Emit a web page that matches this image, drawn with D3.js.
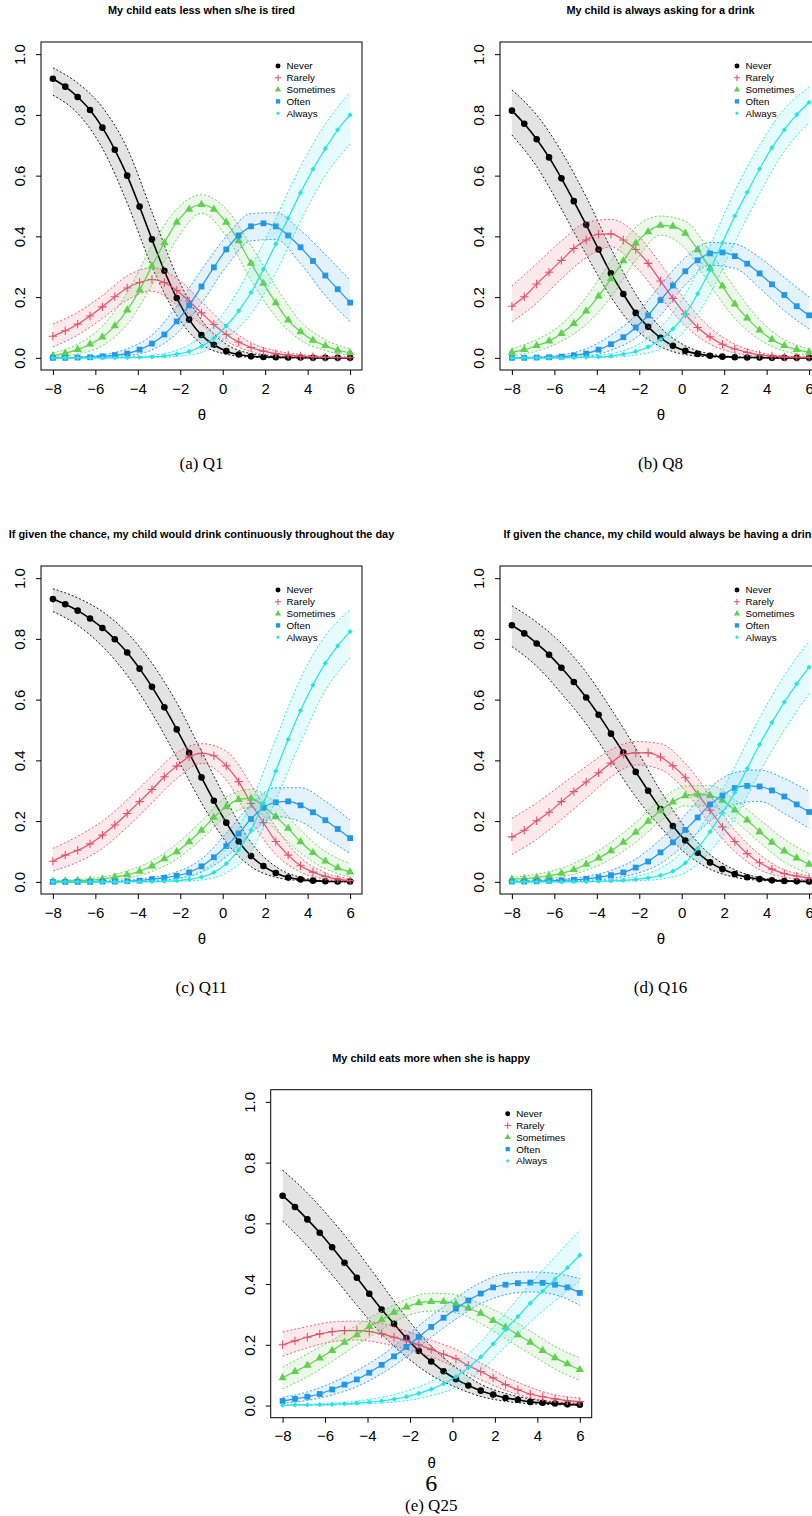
<!DOCTYPE html>
<html><head><meta charset="utf-8">
<script src="https://cdn.jsdelivr.net/npm/d3@7"></script>
<style>body{margin:0;background:#fff}svg{display:block}</style>
</head><body>
<svg id="c" width="812" height="1516"></svg>
<script>
// ---------- data ----------
const categories = ["Never","Rarely","Sometimes","Often","Always"];
const titles = [
  "My child eats less when s/he is tired",
  "My child is always asking for a drink",
  "If given the chance, my child would drink continuously throughout the day",
  "If given the chance, my child would always be having a drink",
  "My child eats more when she is happy"
];
const captions = ["(a) Q1","(b) Q8","(c) Q11","(d) Q16","(e) Q25"];
const xTicks = [-8,-6,-4,-2,0,2,4,6];
const yTicks = [0,0.2,0.4,0.6,0.8,1.0];
const yTickLabels = ["0.0","0.2","0.4","0.6","0.8","1.0"];
const theta = [-8,-7.417,-6.833,-6.25,-5.667,-5.083,-4.5,-3.917,-3.333,-2.75,-2.167,-1.583,-1,-0.417,0.167,0.75,1.333,1.917,2.5,3.083,3.667,4.25,4.833,5.417,6];
const thetaBand = [-8,-6.833,-5.667,-4.5,-3.333,-2.167,-1,0.167,1.333,2.5,3.667,4.833,6];

// Q1
const q1Never = [0.919,0.893,0.859,0.816,0.758,0.685,0.600,0.498,0.390,0.287,0.197,0.126,0.075,0.043,0.022,0.011,0.005,0.003,0.002,0.001,0.001,0,0,0,0];
const q1NeverLo = [0.865,0.805,0.69,0.51,0.30,0.14,0.045,0.012,0.002,0.0005,0,0,0];
const q1NeverHi = [0.955,0.905,0.825,0.69,0.48,0.27,0.125,0.045,0.014,0.005,0.002,0.001,0.0005];
const q1Rarely = [0.071,0.089,0.111,0.138,0.168,0.201,0.230,0.248,0.258,0.248,0.222,0.187,0.148,0.110,0.077,0.052,0.034,0.022,0.014,0.009,0.006,0.004,0.002,0.001,0.001];
const q1RarelyLo = [0.036,0.075,0.130,0.190,0.220,0.175,0.110,0.055,0.020,0.007,0.002,0.001,0];
const q1RarelyHi = [0.111,0.150,0.205,0.270,0.297,0.262,0.185,0.105,0.050,0.023,0.011,0.005,0.003];
const q1Sometimes = [0.007,0.015,0.027,0.045,0.068,0.105,0.157,0.223,0.302,0.379,0.446,0.489,0.505,0.489,0.446,0.385,0.311,0.245,0.181,0.124,0.086,0.058,0.040,0.025,0.017];
const q1SometimesLo = [0.002,0.013,0.040,0.110,0.24,0.39,0.476,0.40,0.255,0.135,0.058,0.024,0.008];
const q1SometimesHi = [0.016,0.045,0.105,0.215,0.37,0.49,0.537,0.49,0.37,0.235,0.12,0.06,0.03];
const q1Often = [0,0,0.001,0.002,0.005,0.009,0.014,0.027,0.047,0.077,0.120,0.173,0.235,0.298,0.357,0.403,0.433,0.443,0.433,0.403,0.364,0.319,0.271,0.226,0.182];
const q1OftenLo = [0,0,0.002,0.007,0.026,0.08,0.18,0.30,0.385,0.39,0.31,0.205,0.119];
const q1OftenHi = [0.001,0.003,0.01,0.03,0.075,0.17,0.29,0.40,0.475,0.478,0.42,0.34,0.256];
const q1Always = [0,0,0,0,0,0,0.001,0.002,0.003,0.006,0.012,0.021,0.038,0.065,0.105,0.155,0.215,0.292,0.375,0.46,0.544,0.621,0.689,0.751,0.800];
const q1AlwaysLo = [0,0,0,0,0.001,0.005,0.018,0.065,0.145,0.28,0.45,0.60,0.704];
const q1AlwaysHi = [0,0,0.001,0.003,0.008,0.025,0.07,0.16,0.30,0.46,0.63,0.77,0.875];

// Q8
const q8Never = [0.814,0.771,0.720,0.660,0.591,0.516,0.438,0.357,0.278,0.210,0.148,0.102,0.066,0.040,0.023,0.013,0.007,0.004,0.002,0.001,0.001,0,0,0,0];
const q8NeverLo = [0.734,0.63,0.49,0.34,0.20,0.095,0.037,0.011,0.003,0.001,0,0,0];
const q8NeverHi = [0.882,0.80,0.68,0.53,0.36,0.21,0.10,0.04,0.013,0.004,0.001,0,0];
const q8Rarely = [0.170,0.201,0.243,0.282,0.321,0.360,0.388,0.407,0.408,0.388,0.357,0.311,0.253,0.196,0.144,0.100,0.069,0.045,0.029,0.018,0.010,0.006,0.003,0.002,0.001];
const q8RarelyLo = [0.119,0.18,0.26,0.33,0.365,0.30,0.20,0.105,0.045,0.016,0.005,0.001,0];
const q8RarelyHi = [0.236,0.31,0.385,0.445,0.456,0.41,0.31,0.19,0.10,0.045,0.018,0.006,0.003];
const q8Sometimes = [0.018,0.027,0.040,0.055,0.080,0.113,0.154,0.203,0.260,0.319,0.377,0.415,0.436,0.433,0.410,0.356,0.295,0.236,0.177,0.131,0.091,0.060,0.040,0.027,0.019];
const q8SometimesLo = [0.007,0.022,0.055,0.11,0.20,0.32,0.404,0.36,0.24,0.13,0.06,0.022,0.008];
const q8SometimesHi = [0.031,0.06,0.11,0.20,0.32,0.43,0.467,0.45,0.35,0.23,0.125,0.06,0.03];
const q8Often = [0,0,0.001,0.002,0.004,0.008,0.014,0.027,0.045,0.068,0.100,0.140,0.190,0.238,0.285,0.321,0.344,0.347,0.335,0.310,0.278,0.242,0.207,0.170,0.140];
const q8OftenLo = [0,0,0.001,0.005,0.025,0.065,0.14,0.24,0.305,0.295,0.23,0.155,0.095];
const q8OftenHi = [0.001,0.003,0.01,0.03,0.075,0.14,0.24,0.33,0.38,0.375,0.33,0.265,0.20];
const q8Always = [0,0,0,0,0,0.001,0.002,0.003,0.006,0.012,0.021,0.036,0.060,0.095,0.144,0.211,0.289,0.379,0.467,0.545,0.622,0.692,0.751,0.801,0.841];
const q8AlwaysLo = [0,0,0,0.001,0.002,0.009,0.03,0.09,0.21,0.38,0.54,0.68,0.775];
const q8AlwaysHi = [0,0,0.001,0.005,0.014,0.04,0.10,0.21,0.37,0.55,0.70,0.82,0.891];

// Q11
const q11Never = [0.931,0.914,0.893,0.867,0.836,0.799,0.755,0.702,0.642,0.575,0.502,0.425,0.344,0.267,0.195,0.133,0.085,0.052,0.029,0.014,0.008,0.004,0.002,0.001,0.001];
const q11NeverLo = [0.89,0.845,0.775,0.68,0.555,0.41,0.26,0.13,0.05,0.015,0.004,0.001,0];
const q11NeverHi = [0.965,0.935,0.89,0.82,0.72,0.59,0.43,0.27,0.13,0.05,0.015,0.004,0.002];
const q11Rarely = [0.068,0.088,0.104,0.125,0.154,0.187,0.225,0.264,0.304,0.346,0.381,0.412,0.423,0.415,0.382,0.330,0.258,0.195,0.133,0.088,0.053,0.032,0.018,0.009,0.004];
const q11RarelyLo = [0.036,0.065,0.11,0.18,0.26,0.34,0.39,0.335,0.20,0.09,0.032,0.009,0.002];
const q11RarelyHi = [0.11,0.15,0.20,0.27,0.35,0.425,0.455,0.43,0.32,0.18,0.08,0.03,0.01];
const q11Sometimes = [0.002,0.003,0.004,0.006,0.009,0.016,0.023,0.035,0.052,0.076,0.099,0.132,0.170,0.212,0.247,0.271,0.275,0.249,0.214,0.176,0.132,0.096,0.068,0.046,0.032];
const q11SometimesLo = [0,0.001,0.004,0.012,0.034,0.075,0.14,0.215,0.245,0.17,0.095,0.043,0.016];
const q11SometimesHi = [0.004,0.008,0.016,0.036,0.07,0.125,0.20,0.28,0.305,0.26,0.17,0.10,0.06];
const q11Often = [0,0,0,0,0.001,0.001,0.002,0.004,0.009,0.013,0.020,0.031,0.051,0.081,0.118,0.159,0.207,0.244,0.262,0.265,0.252,0.229,0.203,0.174,0.144];
const q11OftenLo = [0,0,0,0.001,0.004,0.011,0.032,0.083,0.16,0.215,0.198,0.145,0.093];
const q11OftenHi = [0.001,0.001,0.002,0.005,0.015,0.033,0.075,0.16,0.255,0.31,0.31,0.265,0.203];
const q11Always = [0,0,0,0,0,0,0,0.001,0.001,0.002,0.004,0.008,0.016,0.031,0.060,0.105,0.170,0.260,0.365,0.469,0.564,0.648,0.720,0.777,0.824];
const q11AlwaysLo = [0,0,0,0,0,0.001,0.006,0.03,0.10,0.27,0.46,0.63,0.738];
const q11AlwaysHi = [0,0,0,0.001,0.003,0.01,0.035,0.11,0.26,0.47,0.67,0.81,0.896];

// Q16
const q16Never = [0.845,0.818,0.785,0.748,0.705,0.658,0.607,0.550,0.488,0.426,0.362,0.300,0.240,0.184,0.136,0.096,0.064,0.042,0.026,0.015,0.009,0.005,0.003,0.002,0.001];
const q16NeverLo = [0.775,0.71,0.62,0.52,0.40,0.28,0.18,0.095,0.042,0.015,0.005,0.001,0];
const q16NeverHi = [0.909,0.855,0.785,0.69,0.57,0.44,0.30,0.18,0.09,0.04,0.014,0.005,0.002];
const q16Rarely = [0.148,0.170,0.201,0.229,0.264,0.297,0.329,0.359,0.391,0.419,0.425,0.425,0.411,0.382,0.343,0.289,0.236,0.181,0.133,0.093,0.063,0.042,0.027,0.019,0.013];
const q16RarelyLo = [0.09,0.14,0.205,0.275,0.345,0.385,0.37,0.30,0.19,0.10,0.04,0.015,0.007];
const q16RarelyHi = [0.209,0.26,0.32,0.38,0.435,0.462,0.455,0.39,0.285,0.17,0.09,0.04,0.02];
const q16Sometimes = [0.008,0.011,0.014,0.020,0.028,0.040,0.058,0.078,0.102,0.130,0.163,0.199,0.234,0.263,0.283,0.288,0.284,0.268,0.236,0.203,0.165,0.130,0.101,0.078,0.058];
const q16SometimesLo = [0.003,0.007,0.016,0.038,0.075,0.13,0.20,0.25,0.25,0.20,0.13,0.065,0.027];
const q16SometimesHi = [0.015,0.025,0.045,0.08,0.13,0.195,0.27,0.315,0.318,0.27,0.205,0.14,0.093];
const q16Often = [0.001,0.001,0.002,0.003,0.005,0.007,0.010,0.015,0.022,0.031,0.047,0.067,0.097,0.130,0.171,0.212,0.255,0.284,0.309,0.316,0.314,0.301,0.281,0.255,0.230];
const q16OftenLo = [0,0.001,0.002,0.005,0.011,0.027,0.06,0.125,0.20,0.255,0.265,0.225,0.176];
const q16OftenHi = [0.002,0.004,0.009,0.018,0.038,0.075,0.14,0.22,0.31,0.36,0.368,0.34,0.297];
const q16Always = [0,0,0,0,0,0.001,0.001,0.002,0.003,0.005,0.008,0.013,0.021,0.035,0.062,0.110,0.165,0.227,0.294,0.373,0.452,0.525,0.592,0.652,0.707];
const q16AlwaysLo = [0,0,0,0,0.001,0.003,0.009,0.03,0.10,0.21,0.36,0.50,0.62];
const q16AlwaysHi = [0,0,0.001,0.002,0.007,0.018,0.045,0.11,0.23,0.38,0.54,0.68,0.793];

// Q25
const q25Never = [0.691,0.654,0.613,0.569,0.521,0.470,0.421,0.368,0.316,0.269,0.222,0.180,0.145,0.113,0.087,0.066,0.049,0.036,0.025,0.019,0.012,0.009,0.007,0.004,0.003];
const q25NeverLo = [0.608,0.525,0.43,0.33,0.235,0.16,0.10,0.06,0.03,0.014,0.006,0.003,0.001];
const q25NeverHi = [0.775,0.70,0.61,0.51,0.40,0.29,0.195,0.125,0.07,0.04,0.022,0.012,0.007];
const q25Rarely = [0.200,0.213,0.225,0.236,0.243,0.247,0.247,0.244,0.236,0.225,0.214,0.200,0.185,0.169,0.154,0.132,0.112,0.091,0.069,0.052,0.038,0.029,0.022,0.016,0.013];
const q25RarelyLo = [0.162,0.19,0.21,0.216,0.205,0.185,0.16,0.125,0.085,0.05,0.025,0.012,0.006];
const q25RarelyHi = [0.242,0.26,0.275,0.278,0.27,0.245,0.215,0.185,0.14,0.095,0.06,0.035,0.025];
const q25Sometimes = [0.091,0.112,0.132,0.156,0.181,0.208,0.233,0.260,0.282,0.307,0.324,0.338,0.342,0.342,0.335,0.321,0.304,0.280,0.258,0.233,0.208,0.181,0.157,0.137,0.118];
const q25SometimesLo = [0.055,0.095,0.145,0.20,0.25,0.295,0.311,0.305,0.27,0.22,0.17,0.12,0.082];
const q25SometimesHi = [0.126,0.17,0.215,0.265,0.31,0.35,0.37,0.365,0.335,0.295,0.245,0.195,0.157];
const q25Often = [0.015,0.022,0.029,0.038,0.053,0.069,0.086,0.108,0.134,0.162,0.193,0.226,0.259,0.289,0.319,0.346,0.369,0.389,0.398,0.403,0.405,0.404,0.398,0.389,0.371];
const q25OftenLo = [0.008,0.017,0.035,0.062,0.105,0.16,0.225,0.285,0.335,0.365,0.374,0.365,0.33];
const q25OftenHi = [0.027,0.045,0.075,0.115,0.165,0.23,0.295,0.355,0.405,0.435,0.44,0.435,0.418];
const q25Always = [0.001,0.002,0.002,0.003,0.004,0.006,0.008,0.011,0.015,0.021,0.029,0.040,0.054,0.072,0.095,0.125,0.160,0.203,0.250,0.293,0.337,0.377,0.416,0.454,0.495];
const q25AlwaysLo = [0,0.001,0.002,0.004,0.008,0.016,0.032,0.06,0.115,0.195,0.275,0.345,0.41];
const q25AlwaysHi = [0.002,0.004,0.008,0.015,0.027,0.048,0.08,0.135,0.21,0.305,0.40,0.49,0.577];

// ---------- assemble ----------
const panelData = [
  [[q1Never,q1NeverLo,q1NeverHi],[q1Rarely,q1RarelyLo,q1RarelyHi],[q1Sometimes,q1SometimesLo,q1SometimesHi],[q1Often,q1OftenLo,q1OftenHi],[q1Always,q1AlwaysLo,q1AlwaysHi]],
  [[q8Never,q8NeverLo,q8NeverHi],[q8Rarely,q8RarelyLo,q8RarelyHi],[q8Sometimes,q8SometimesLo,q8SometimesHi],[q8Often,q8OftenLo,q8OftenHi],[q8Always,q8AlwaysLo,q8AlwaysHi]],
  [[q11Never,q11NeverLo,q11NeverHi],[q11Rarely,q11RarelyLo,q11RarelyHi],[q11Sometimes,q11SometimesLo,q11SometimesHi],[q11Often,q11OftenLo,q11OftenHi],[q11Always,q11AlwaysLo,q11AlwaysHi]],
  [[q16Never,q16NeverLo,q16NeverHi],[q16Rarely,q16RarelyLo,q16RarelyHi],[q16Sometimes,q16SometimesLo,q16SometimesHi],[q16Often,q16OftenLo,q16OftenHi],[q16Always,q16AlwaysLo,q16AlwaysHi]],
  [[q25Never,q25NeverLo,q25NeverHi],[q25Rarely,q25RarelyLo,q25RarelyHi],[q25Sometimes,q25SometimesLo,q25SometimesHi],[q25Often,q25OftenLo,q25OftenHi],[q25Always,q25AlwaysLo,q25AlwaysHi]]
];

// ---------- style / layout ----------
const colors = ["#000000","#DF536B","#61D04F","#2297E6","#28E2E5"];
const bandOpacity = [0.11,0.13,0.12,0.12,0.12];
const lineWidth = [1.6,1.2,1.2,1.2,1.2];
const panelPos = [[41,42],[500,42],[41,566],[500,566],[270.7,1089.7]];
const W = 321, H = 328;
const SANS = "'Liberation Sans', Arial, Helvetica, sans-serif";
const SERIF = "'Liberation Serif', 'Times New Roman', serif";

function markerPath(i, s) {
  s = s || 1;
  if (i === 0) return d3.symbol(d3.symbolCircle, Math.PI * (3.3*s) * (3.3*s))();
  if (i === 1) { const a = 4.2*s; return `M${-a},0H${a}M0,${-a}V${a}`; }
  if (i === 2) return d3.symbol(d3.symbolTriangle, 30*s*s)();
  if (i === 3) { const a = 2.9*s; return `M${-a},${-a}H${a}V${a}H${-a}Z`; }
  const a = 2.6*s; return `M0,${-a}L${a},0L0,${a}L${-a},0Z`;
}
function styleMarker(sel, i) {
  if (i === 1) sel.attr("fill","none").attr("stroke",colors[i]).attr("stroke-width",1.1);
  else sel.attr("fill",colors[i]).attr("stroke","none");
}

const svg = d3.select("#c");

panelData.forEach((series, pi) => {
  const [L, T] = panelPos[pi];
  const g = svg.append("g").attr("transform", `translate(${L},${T})`);
  const x = d3.scaleLinear().domain([-8.56, 6.56]).range([0, W]);
  const y = d3.scaleLinear().domain([-0.04, 1.04]).range([H, 0]);

  series.forEach((s, i) => {
    const [vals, lo, hi] = s;
    const col = colors[i];
    const band = thetaBand.map((t, j) => ({t, lo: lo[j], hi: hi[j]}));
    g.append("path").datum(band)
      .attr("d", d3.area().x(d => x(d.t)).y0(d => y(d.lo)).y1(d => y(d.hi)).curve(d3.curveMonotoneX))
      .attr("fill", col).attr("fill-opacity", bandOpacity[i]).attr("stroke", "none");
    ["lo","hi"].forEach(k => {
      g.append("path").datum(band)
        .attr("d", d3.line().x(d => x(d.t)).y(d => y(d[k])).curve(d3.curveMonotoneX))
        .attr("fill","none").attr("stroke", col).attr("stroke-width", 0.9)
        .attr("stroke-dasharray", "2,2");
    });
    const pts = theta.map((t, j) => ({t, v: vals[j]}));
    g.append("path").datum(pts)
      .attr("d", d3.line().x(d => x(d.t)).y(d => y(d.v)).curve(d3.curveMonotoneX))
      .attr("fill","none").attr("stroke", col).attr("stroke-width", lineWidth[i]);
    g.append("g").selectAll("path").data(pts).join("path")
      .attr("transform", d => `translate(${x(d.t)},${y(d.v)})`)
      .attr("d", markerPath(i))
      .call(sel => styleMarker(sel, i));
  });

  // box
  g.append("rect").attr("x",0).attr("y",0).attr("width",W).attr("height",H)
    .attr("fill","none").attr("stroke","#000").attr("stroke-width",1);

  // x axis
  const xa = g.append("g").attr("transform", `translate(0,${H})`)
    .call(d3.axisBottom(x).tickValues(xTicks).tickSize(5).tickPadding(8)
      .tickFormat(d => d < 0 ? "\u2212" + Math.abs(d) : String(d)));
  xa.select(".domain").remove();
  xa.attr("font-family", SANS).attr("font-size", 15);
  xa.selectAll("text").attr("fill","#000");
  xa.selectAll("line").attr("stroke","#000");

  // y axis
  const ya = g.append("g")
    .call(d3.axisLeft(y).tickValues(yTicks).tickSize(5)
      .tickFormat((d, k) => yTickLabels[k]));
  ya.select(".domain").remove();
  ya.attr("font-family", SANS).attr("font-size", 15);
  ya.selectAll("line").attr("stroke","#000");
  ya.selectAll("text").attr("fill","#000")
    .attr("x", null).attr("dy", "0.35em").attr("text-anchor","middle")
    .attr("transform", "translate(-21,0) rotate(-90)");

  // title
  g.append("text").attr("x", W/2).attr("y", -28)
    .attr("text-anchor","middle").attr("font-family", SANS)
    .attr("font-weight","bold").attr("font-size", 10.9).attr("fill","#000")
    .text(titles[pi]);

  // theta label
  g.append("text").attr("x", W/2 + 0.5).attr("y", 378)
    .attr("text-anchor","middle").attr("font-family", SANS)
    .attr("font-size", 15).attr("fill","#000").text("\u03B8");

  // legend
  const lg = g.append("g");
  categories.forEach((c, i) => {
    const ly = 24 + i * 11.8;
    lg.append("path").attr("transform", `translate(237,${ly})`)
      .attr("d", markerPath(i, 0.75)).call(sel => styleMarker(sel, i));
    lg.append("text").attr("x", 245.5).attr("y", ly).attr("dy","0.35em")
      .attr("font-family", SANS).attr("font-size", 9.8).attr("fill","#000").text(c);
  });

  // caption
  if (pi < 4) {
    g.append("text").attr("x", W/2).attr("y", 427)
      .attr("text-anchor","middle").attr("font-family", SERIF)
      .attr("font-size", 17).attr("fill","#000").text(captions[pi]);
  } else {
    g.append("text").attr("x", W/2).attr("y", 401)
      .attr("text-anchor","middle").attr("font-family", SERIF)
      .attr("font-size", 24).attr("fill","#000").text("6");
    g.append("text").attr("x", W/2).attr("y", 421)
      .attr("text-anchor","middle").attr("font-family", SERIF)
      .attr("font-size", 17).attr("fill","#000").text(captions[pi]);
  }
});
</script>
</body></html>
